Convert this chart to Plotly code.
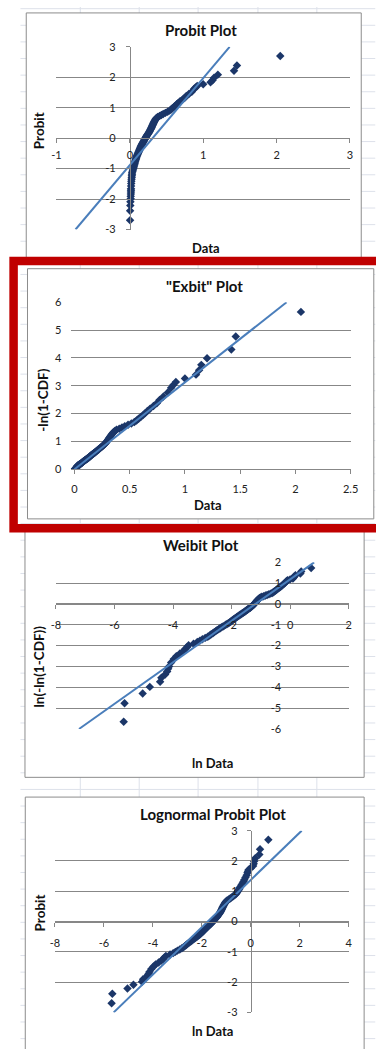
import math
from statistics import NormalDist
import plotly.graph_objects as go

# ---------------- data ----------------
# cumulative probability (median-rank) column of the sheet
CDF = [0.0035, 0.0085, 0.0135, 0.0185, 0.0235, 0.0284, 0.0334, 0.0384, 0.0434, 0.0484,
       0.0584, 0.0684, 0.0783, 0.0883, 0.0983, 0.1083, 0.1183, 0.1283, 0.1382, 0.1482,
       0.1582, 0.1682, 0.1782, 0.1881, 0.1981, 0.2081, 0.2181, 0.2280, 0.2380, 0.2480,
       0.2580, 0.2680, 0.2780, 0.2879, 0.2979, 0.3079, 0.3179, 0.3278, 0.3378, 0.3478,
       0.3578, 0.3678, 0.3777, 0.3877, 0.3977, 0.4077, 0.4177, 0.4277, 0.4376, 0.4476,
       0.4576, 0.4676, 0.4776, 0.4875, 0.4975, 0.5075, 0.5175, 0.5274, 0.5374, 0.5474,
       0.5574, 0.5674, 0.5773, 0.5873, 0.5973, 0.6073, 0.6173, 0.6273, 0.6372, 0.6472,
       0.6572, 0.6672, 0.6772, 0.6871, 0.6971, 0.7071, 0.7171, 0.7270, 0.7370, 0.7470,
       0.7570, 0.7670, 0.7769, 0.7869, 0.7969, 0.8069, 0.8169, 0.8268, 0.8368, 0.8468,
       0.8568, 0.8668, 0.8767, 0.8867, 0.8967, 0.9067, 0.9167, 0.9266, 0.9366, 0.9466,
       0.9516, 0.9566, 0.9616, 0.9666, 0.9716, 0.9765, 0.9815, 0.9865, 0.9915, 0.9965]

# sorted data column
DATA = [0.0034, 0.0035, 0.0065, 0.0083, 0.0118, 0.0123, 0.0140, 0.0150, 0.0155, 0.0160,
        0.0172, 0.0188, 0.0205, 0.0232, 0.0260, 0.0278, 0.0295, 0.0312, 0.0370, 0.0420,
        0.0460, 0.0500, 0.0550, 0.0600, 0.0640, 0.0675, 0.0715, 0.0750, 0.0790, 0.0825,
        0.0870, 0.0915, 0.0960, 0.1010, 0.1060, 0.1110, 0.1160, 0.1210, 0.1260, 0.1310,
        0.1350, 0.1395, 0.1440, 0.1490, 0.1540, 0.1590, 0.1640, 0.1695, 0.1750, 0.1810,
        0.1870, 0.1930, 0.1990, 0.2050, 0.2110, 0.2170, 0.2230, 0.2290, 0.2350, 0.2410,
        0.2500, 0.2560, 0.2620, 0.2680, 0.2740, 0.2800, 0.2860, 0.2910, 0.2960, 0.3010,
        0.3060, 0.3110, 0.3160, 0.3210, 0.3270, 0.3330, 0.3400, 0.3470, 0.3550, 0.3650,
        0.3800, 0.4050, 0.4300, 0.4550, 0.4850, 0.5150, 0.5420, 0.5620, 0.5800, 0.6000,
        0.6200, 0.6400, 0.6600, 0.6850, 0.7150, 0.7450, 0.7700, 0.8050, 0.8450, 0.8750,
        0.8950, 0.9180, 1.0000, 1.1000, 1.1280, 1.1480, 1.2000, 1.4200, 1.4600, 2.0500]

# fitted straight lines (end points)
PROBIT_TREND_X = [-0.74, 1.36]
PROBIT_TREND_Y = [-3.0, 3.0]
EXBIT_TREND_X = [0.0, 1.92]
EXBIT_TREND_Y = [0.0, 6.0]
WEIBIT_TREND_X = [-7.21, 0.82]
WEIBIT_TREND_Y = [-6.0, 2.0]
LOGN_TREND_X = [-5.6, 2.08]
LOGN_TREND_Y = [-3.0, 3.0]

# tick labels
PROBIT_XTICKS = [-1, 0, 1, 2, 3]
PROBIT_YTICKS = [-3, -2, -1, 0, 1, 2, 3]
EXBIT_XTICKS = [0, 0.5, 1, 1.5, 2, 2.5]
EXBIT_YTICKS = [0, 1, 2, 3, 4, 5, 6]
WEIBIT_XTICKS = [-8, -6, -4, -2, 0, 2]
WEIBIT_YTICKS = [-6, -5, -4, -3, -2, -1, 0, 1, 2]
LOGN_XTICKS = [-8, -6, -4, -2, 0, 2, 4]
LOGN_YTICKS = [-3, -2, -1, 0, 1, 2, 3]

TITLES = ["Probit Plot", "\"Exbit\" Plot", "Weibit Plot", "Lognormal Probit Plot"]
XTITLES = ["Data", "Data", "ln Data", "ln Data"]
YTITLES = ["Probit", "-ln(1-CDF)", "ln(-ln(1-CDF))", "Probit"]

# ---------------- derived columns (the chart's own transforms) ----------------
nd = NormalDist()
probit = [nd.inv_cdf(p) for p in CDF]
exbit = [-math.log(1.0 - p) for p in CDF]
weibit = [math.log(e) for e in exbit]
ln_data = [math.log(x) for x in DATA]

W, H = 376, 1049
FONT = "Lato, 'Open Sans', 'DejaVu Sans', sans-serif"
GRID = "#878787"
MARK = "#1B3668"
TREND = "#4A7EBB"
TICKFONT = dict(family=FONT, size=11, color="#222222")


def px(x):
    return x / W


def py(y):
    return 1 - y / H


def lab(v):
    return "%g" % v


panels = [
    dict(x=DATA, y=probit, tx=PROBIT_TREND_X, ty=PROBIT_TREND_Y,
         box=(53.3, 357.3, 40.3, 225.3), xr=[-1, 3], yr=[-3, 3],
         xt=PROBIT_XTICKS, yt=PROBIT_YTICKS, yline=True, xso=3, yso=8),
    dict(x=DATA, y=exbit, tx=EXBIT_TREND_X, ty=EXBIT_TREND_Y,
         box=(68.0, 358.0, 299.0, 468.0), xr=[-0.035, 2.5], yr=[0, 6],
         xt=EXBIT_XTICKS, yt=EXBIT_YTICKS, yline=False, xso=6, yso=13),
    dict(x=ln_data, y=weibit, tx=WEIBIT_TREND_X, ty=WEIBIT_TREND_Y,
         box=(52.7, 356.0, 562.3, 731.0), xr=[-8, 2], yr=[-6, 2],
         xt=WEIBIT_XTICKS, yt=WEIBIT_YTICKS, yline=False, xso=7, yso=9),
    dict(x=ln_data, y=probit, tx=LOGN_TREND_X, ty=LOGN_TREND_Y,
         box=(51.7, 356.0, 834.0, 1018.0), xr=[-8, 4], yr=[-3, 3],
         xt=LOGN_XTICKS, yt=LOGN_YTICKS, yline=True, xso=7, yso=7),
]

fig = go.Figure()
layout = {}
for i, p in enumerate(panels, start=1):
    sfx = "" if i == 1 else str(i)
    xl, xr_, yt_, yb = p["box"]
    x0, x1 = p["xr"]
    y0, y1 = p["yr"]
    yaxis_px = xl + (0 - x0) / (x1 - x0) * (xr_ - xl)
    xaxis_py = yt_ + (y1 - 0) / (y1 - y0) * (yb - yt_)

    fig.add_trace(go.Scatter(
        x=p["x"], y=p["y"], mode="markers",
        marker=dict(symbol="diamond", size=6.5, color=MARK, line=dict(width=0)),
        xaxis="x" + sfx, yaxis="y" + sfx, hoverinfo="skip", showlegend=False))
    fig.add_trace(go.Scatter(
        x=p["tx"], y=p["ty"], mode="lines",
        line=dict(color=TREND, width=2),
        xaxis="x" + sfx, yaxis="y" + sfx, hoverinfo="skip", showlegend=False))

    layout["xaxis" + sfx] = dict(
        domain=[px(xl), px(xr_)], range=[x0, x1], anchor="free",
        position=py(xaxis_py), showgrid=False, zeroline=False,
        showline=True, linecolor=GRID, linewidth=1,
        ticks="outside", ticklen=4, tickwidth=1, tickcolor=GRID,
        tickvals=p["xt"], ticktext=[lab(v) for v in p["xt"]],
        tickfont=TICKFONT, ticklabelstandoff=p["xso"], fixedrange=True)
    layout["yaxis" + sfx] = dict(
        domain=[py(yb), py(yt_)], range=[y0, y1], anchor="free",
        position=px(yaxis_px), showgrid=True, gridcolor=GRID, gridwidth=1,
        zeroline=False, showline=p["yline"], linecolor=GRID, linewidth=1,
        ticks="outside" if p["yline"] else "", ticklen=4, tickcolor=GRID,
        tickvals=p["yt"], ticktext=[lab(v) for v in p["yt"]],
        tickfont=TICKFONT, ticklabelstandoff=p["yso"], fixedrange=True)

# ---------------- sheet background, chart frames, red highlight ----------------
shapes = []
SHEET = "#dde1ea"
for cx in [78, 139, 200, 262, 323]:
    shapes.append(dict(type="line", xref="paper", yref="paper",
                       x0=px(cx), x1=px(cx), y0=0, y1=1,
                       line=dict(color=SHEET, width=1), layer="below"))
k = 0
while 1.7 + 16.82 * k < H:
    ry = 1.7 + 16.82 * k
    shapes.append(dict(type="line", xref="paper", yref="paper",
                       x0=px(16), x1=1.02, y0=py(ry), y1=py(ry),
                       line=dict(color=SHEET, width=1), layer="below"))
    k += 1

frames = [(22, 369, 6, 258), (23.3, 382, 265, 518.3),
          (20.7, 372, 527, 780), (21, 372, 800, 1062)]
for (l, r, t, b) in frames:
    shapes.append(dict(type="rect", xref="paper", yref="paper",
                       x0=px(l), x1=px(r), y0=py(b), y1=py(t),
                       fillcolor="white", line=dict(color="#8c8c8c", width=1),
                       layer="below"))

shapes.append(dict(type="rect", xref="paper", yref="paper",
                   x0=px(8.9), x1=px(392), y0=py(527.8), y1=py(257.2),
                   fillcolor="rgba(0,0,0,0)", line=dict(color="#C00000", width=8.5),
                   layer="above"))

# ---------------- titles ----------------
annotations = []
title_pos = [(203, 23), (207, 283), (203, 545), (215, 817)]
xtitle_pos = [(208, 244), (210, 504), (215, 765), (215, 1037)]
ytitle_pos = [(36, 125), (39, 398), (35, 668), (36, 917)]
for t, (ax, ay) in zip(TITLES, title_pos):
    annotations.append(dict(text=t, x=px(ax), y=py(ay), xref="paper", yref="paper",
                            showarrow=False, xanchor="center", yanchor="middle",
                            font=dict(family=FONT, size=15, color="#111111", weight="bold")))
for t, (ax, ay) in zip(XTITLES, xtitle_pos):
    annotations.append(dict(text=t, x=px(ax), y=py(ay), xref="paper", yref="paper",
                            showarrow=False, xanchor="center", yanchor="middle",
                            font=dict(family=FONT, size=13, color="#111111", weight="bold")))
for t, (ax, ay) in zip(YTITLES, ytitle_pos):
    annotations.append(dict(text=t, x=px(ax), y=py(ay), xref="paper", yref="paper",
                            showarrow=False, xanchor="center", yanchor="middle",
                            textangle=-90,
                            font=dict(family=FONT, size=13.5, color="#111111", weight="bold")))

fig.update_layout(
    width=W, height=H, autosize=False,
    margin=dict(l=0, r=0, t=0, b=0, pad=0),
    paper_bgcolor="white", plot_bgcolor="rgba(0,0,0,0)",
    showlegend=False, hovermode=False,
    shapes=shapes, annotations=annotations,
    **layout)

fig.write_html("out.html", config=dict(displayModeBar=False),
               post_script="document.body.style.margin='0px';"
                           "document.body.style.overflow='hidden';")
